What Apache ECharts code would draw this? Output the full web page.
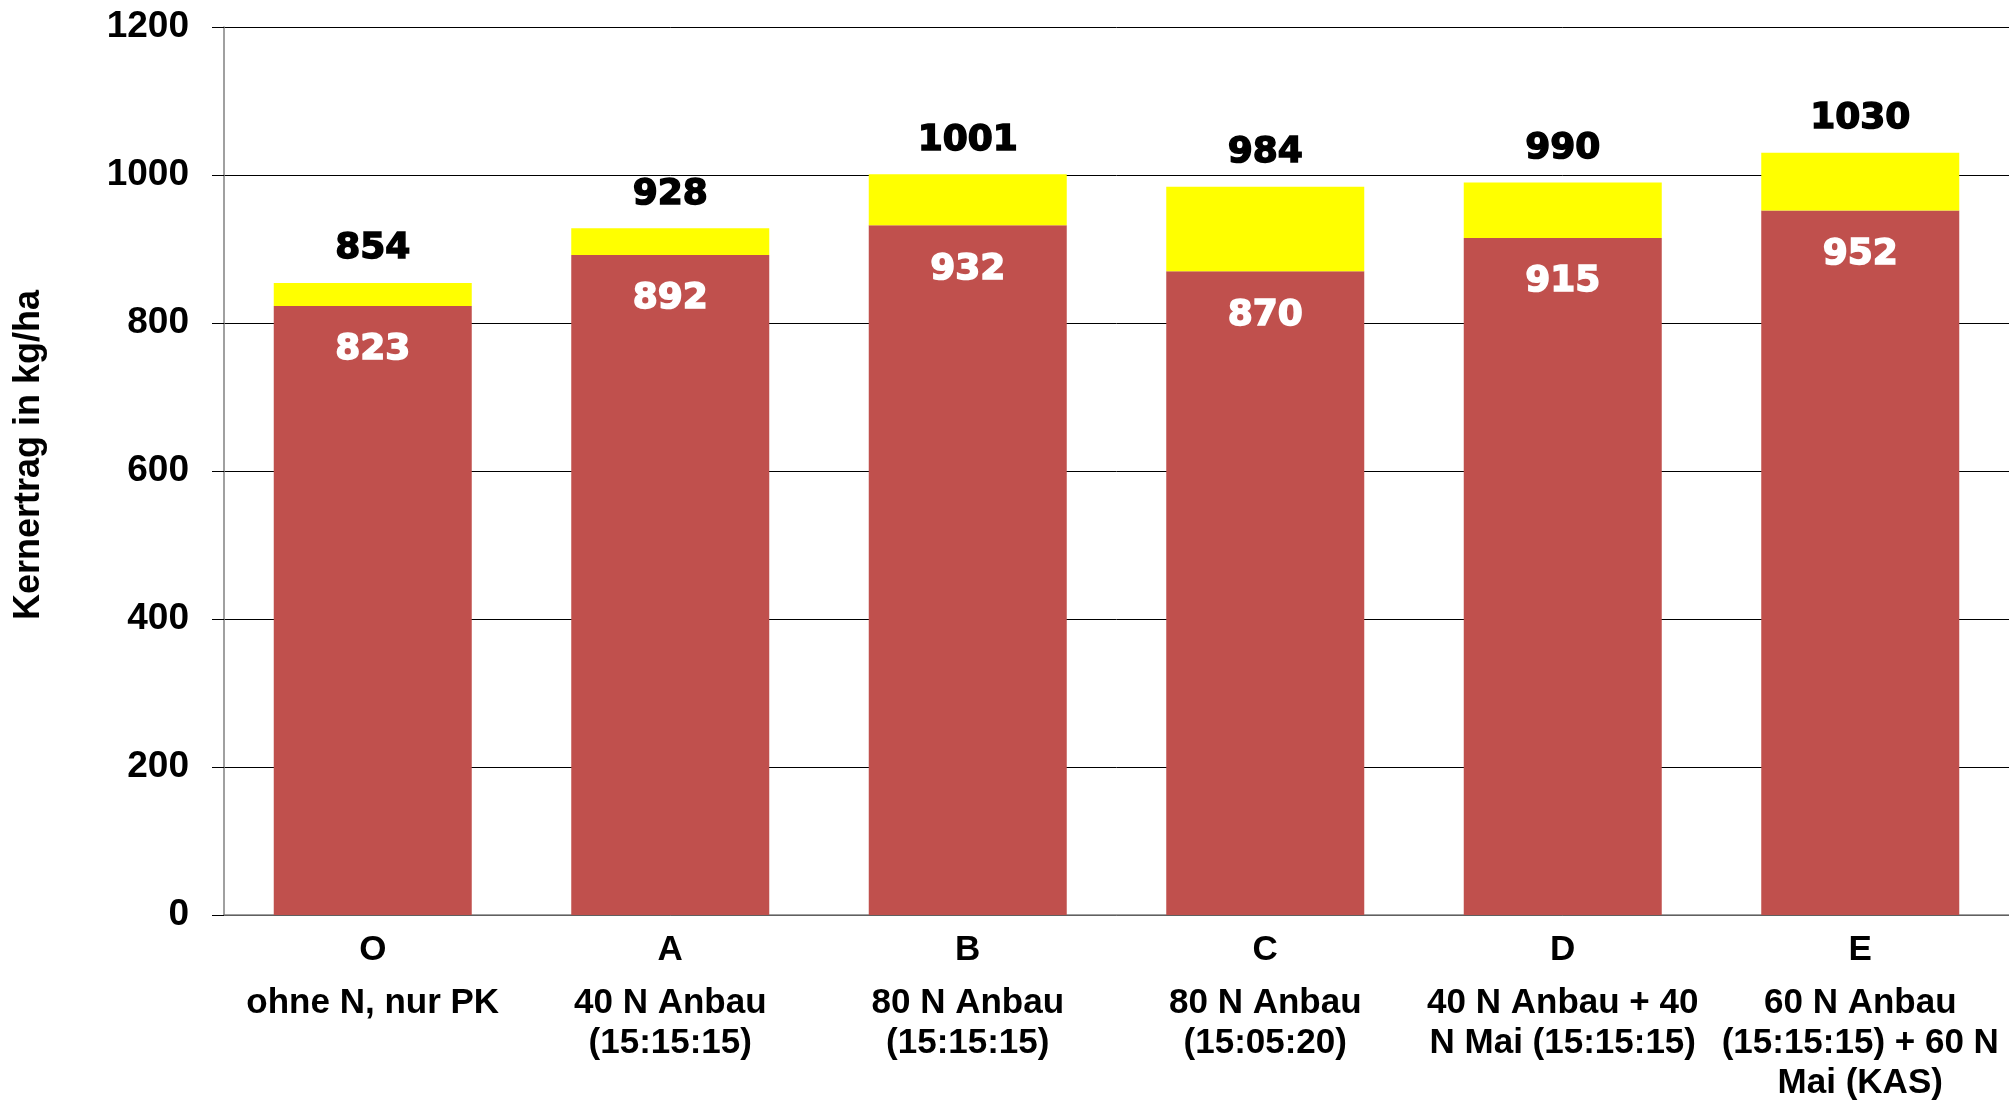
<!DOCTYPE html>
<html>
<head>
<meta charset="utf-8">
<script src="https://cdn.jsdelivr.net/npm/echarts@6/dist/echarts.min.js"></script>
<style>
  html, body { margin: 0; padding: 0; background: #fff; }
  #chart { width: 2009px; height: 1101px; }
</style>
</head>
<body>
<div id="chart"></div>
<script>
// Varianten (Kürzel + Beschreibung)
const codes = ['O', 'A', 'B', 'C', 'D', 'E']
const descriptions = [
    'ohne N, nur PK',
    '40 N Anbau\n(15:15:15)',
    '80 N Anbau\n(15:15:15)',
    '80 N Anbau\n(15:05:20)',
    '40 N Anbau + 40\nN Mai (15:15:15)',
    '60 N Anbau\n(15:15:15) + 60 N\nMai (KAS)'
]
// Kernertrag kg/ha
const baseYield = [823, 892, 932, 870, 915, 952]
const totalYield = [854, 928, 1001, 984, 990, 1030]
const yTicks = [0, 200, 400, 600, 800, 1000, 1200]

const extraYield = totalYield.map((t, i) => t - baseYield[i])

const chart = echarts.init(document.getElementById('chart'))

const labelFont = 'Liberation Sans, Arial, sans-serif'
const valueFont = 'DejaVu Sans, sans-serif'

chart.setOption({
    animation: false,
    backgroundColor: '#fff',
    grid: { left: 224, top: 27, right: -3, bottom: 186, containLabel: false },
    graphic: [{
        type: 'text',
        x: 29,
        y: 455,
        rotation: Math.PI / 2,
        style: {
            text: 'Kernertrag in kg/ha',
            font: 'bold 36px ' + labelFont,
            fill: '#000',
            textAlign: 'center',
            textVerticalAlign: 'middle'
        }
    }],
    xAxis: {
        type: 'category',
        data: codes,
        axisLine: { lineStyle: { color: '#808080', width: 1.5 } },
        axisTick: { show: false },
        axisLabel: {
            margin: 2,
            interval: 0,
            formatter: (v, i) => '{a|' + v + '}\n' +
                descriptions[i].split('\n').map(s => '{b|' + s + '}').join('\n'),
            rich: {
                a: { fontFamily: labelFont, fontWeight: 'bold', fontSize: 35, color: '#000', lineHeight: 66 },
                b: { fontFamily: labelFont, fontWeight: 'bold', fontSize: 35, color: '#000', lineHeight: 40 }
            }
        }
    },
    yAxis: {
        type: 'value',
        min: yTicks[0],
        max: yTicks[yTicks.length - 1],
        interval: 200,
        axisLine: { show: true, lineStyle: { color: '#808080', width: 1.5 } },
        axisTick: { show: true, length: 12, lineStyle: { color: '#000', width: 1 } },
        splitLine: { lineStyle: { color: '#000', width: 1 } },
        axisLabel: {
            margin: 35,
            color: '#000',
            fontFamily: labelFont,
            fontWeight: 'bold',
            fontSize: 37,
            formatter: v => String(v)
        }
    },
    series: [
        {
            type: 'bar',
            stack: 'ertrag',
            data: baseYield,
            barWidth: 198,
            itemStyle: { color: '#C0504D' },
            label: {
                show: true,
                position: 'insideTop',
                distance: 24,
                color: '#fff',
                textBorderColor: '#fff',
                textBorderWidth: 1.5,
                fontFamily: valueFont,
                fontWeight: 'bold',
                fontSize: 36,
                lineHeight: 40
            }
        },
        {
            type: 'bar',
            stack: 'ertrag',
            data: extraYield,
            barWidth: 198,
            itemStyle: { color: '#FFFF00' },
            label: {
                show: true,
                position: 'top',
                distance: 14,
                color: '#000',
                textBorderColor: '#000',
                textBorderWidth: 1.5,
                fontFamily: valueFont,
                fontWeight: 'bold',
                fontSize: 36,
                lineHeight: 40,
                formatter: p => totalYield[p.dataIndex]
            }
        }
    ]
})
</script>
</body>
</html>
